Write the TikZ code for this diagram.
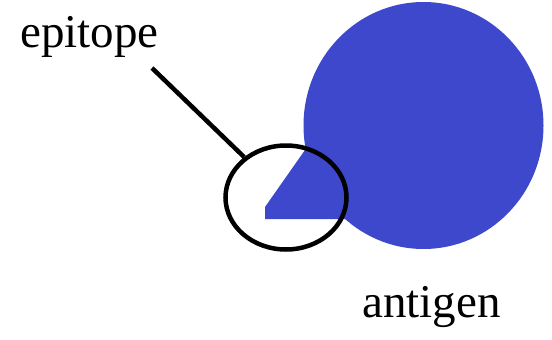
\documentclass[tikz,border=0pt]{standalone}
\usepackage{fontspec}
\setmainfont{Liberation Serif}
\usetikzlibrary{shapes.geometric}
\definecolor{antiblue}{RGB}{62,72,204}
\tikzset{
  lbl/.style={inner sep=0pt, anchor=base west, font=\fontsize{47}{56}\selectfont},
  ring/.style={draw=black, line width=4.5pt, ellipse, inner sep=0pt},
  pointer/.style={draw=black, line width=4.5pt}
}
\begin{document}
\begin{tikzpicture}[x=1pt,y=-1pt]
\useasboundingbox (0,0) rectangle (552,340);
% antigen body
\fill[antiblue] (423.5,125.5) ellipse [x radius=120, y radius=123.5];
\fill[antiblue] (265,219) -- (265,207) -- (305,150) -- (400,200) -- (347,219) -- cycle;
% epitope ring
\node[ring, minimum width=121pt, minimum height=104pt] (epi) at (286,197.5) {};
\coordinate (tail) at (152,68);
\draw[pointer] (tail) -- (epi);
% labels
\node[lbl] (tepi) at (20,47) {epitope};
\node[lbl] (tanti) at (362,317) {antigen};
\end{tikzpicture}
\end{document}
